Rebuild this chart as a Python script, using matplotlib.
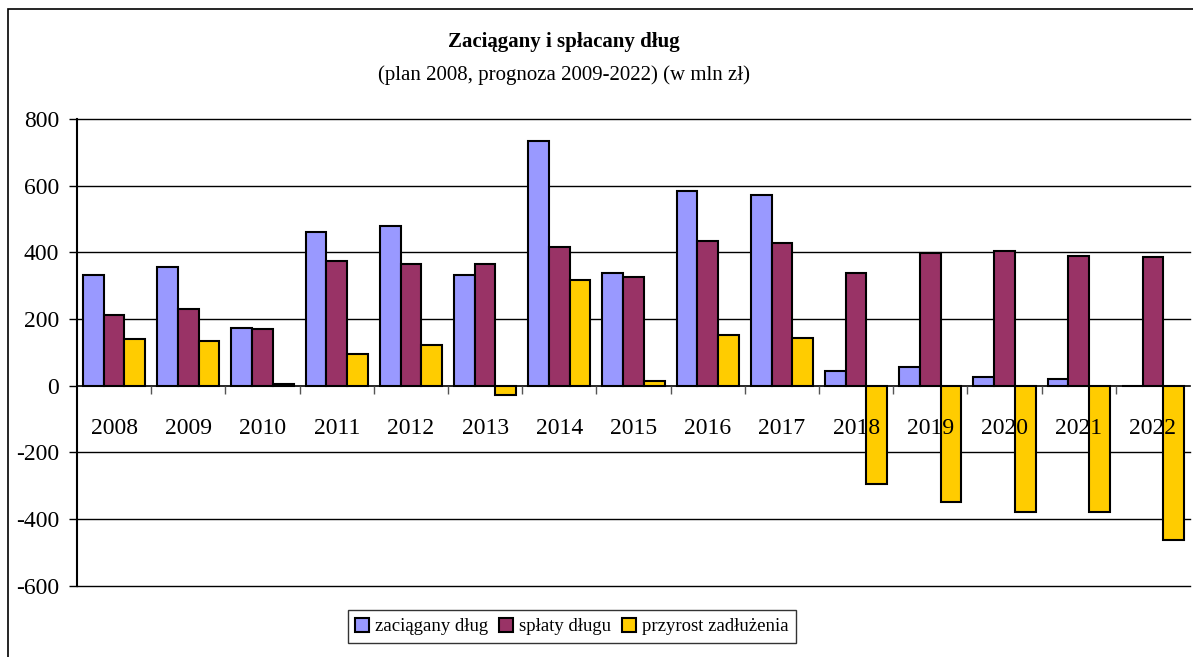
import numpy as np
import matplotlib
matplotlib.use('Agg')
import matplotlib.pyplot as plt
from matplotlib.patches import Rectangle

plt.rcParams['font.family'] = ['Liberation Serif', 'DejaVu Serif']
plt.rcParams['axes.unicode_minus'] = False

lata = ['2008', '2009', '2010', '2011', '2012', '2013', '2014', '2015',
        '2016', '2017', '2018', '2019', '2020', '2021', '2022']
zaciagany = [331, 356, 174, 462, 480, 331, 733, 337, 583, 571, 43, 55, 25, 20, 0]
splaty = [211, 229, 169, 373, 366, 366, 415, 325, 433, 427, 337, 397, 403, 390, 385]
przyrost = [139, 134, 6, 96, 121, -29, 318, 13, 151, 144, -294, -348, -379, -379, -462]

kolory = ['#9999FF', '#993366', '#FFCC00']
nazwy = ['zaciągany dług', 'spłaty długu', 'przyrost zadłużenia']

fig = plt.figure(figsize=(11.93, 6.57), dpi=100)
ax = fig.add_axes([77 / 1193, 1 - 585.7 / 657, 1113 / 1193, (585.7 - 119) / 657])

x = np.arange(len(lata))
w = 0.28
for i, (dane, kol, nazwa) in enumerate(zip([zaciagany, splaty, przyrost], kolory, nazwy)):
    ax.bar(x + (i - 1) * w, dane, width=w, color=kol, edgecolor='black',
           linewidth=1.5, label=nazwa, zorder=1)

ax.set_xlim(-0.5, len(lata) - 0.5)
ax.set_ylim(-600, 800)
ax.set_yticks(range(-600, 801, 200))
# linie siatki pod słupkami
for yy in range(-600, 801, 200):
    if yy != 0:
        ax.axhline(yy, color='black', linewidth=1, zorder=0, clip_on=False)
ax.set_axisbelow(False)

ax.spines['top'].set_visible(False)
ax.spines['right'].set_visible(False)
ax.spines['bottom'].set_position(('data', 0))
ax.spines['left'].set_linewidth(1.5)
ax.spines['bottom'].set_linewidth(1.2)

ax.set_xticks(x)
ax.set_xticklabels(lata)
ax.set_xticks(np.arange(0.5, len(lata) - 0.5), minor=True)
ax.tick_params(axis='x', which='major', length=0, pad=23, labelsize=17)
ax.tick_params(axis='x', which='minor', length=6, width=1, color='#555555', direction='out')
ax.tick_params(axis='y', length=6, width=1, pad=7, labelsize=17)

fig.text(0.473, 0.936, 'Zaciągany i spłacany dług', ha='center', va='center',
         fontsize=15, fontweight='bold')
fig.text(0.473, 0.886, '(plan 2008, prognoza 2009-2022) (w mln zł)', ha='center',
         va='center', fontsize=15)

# ramka wokół całego wykresu
fig.patches.append(Rectangle((8 / 1193, -0.1), 1.2, 1 - 9 / 657 + 0.1,
                             transform=fig.transFigure, fill=False,
                             edgecolor='black', linewidth=1.2))

leg = fig.legend(loc='center', bbox_to_anchor=(572 / 1193, 1 - 626.5 / 657), ncol=3,
                 fontsize=13.5, frameon=True, fancybox=False, edgecolor='black',
                 handlelength=0.75, handleheight=0.75, handletextpad=0.3,
                 columnspacing=0.6, borderpad=0.4)
leg.get_frame().set_linewidth(1)

fig.savefig('out.png', dpi=100)
